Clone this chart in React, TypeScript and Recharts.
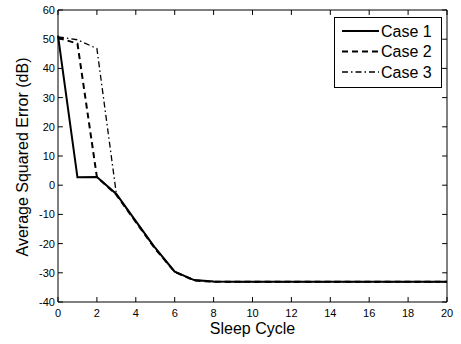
import React from "react";
import { LineChart, Line, XAxis, YAxis, Legend, ReferenceLine } from "recharts";

// sleep cycle index (x axis)
const cycles = [0, 1, 2, 3, 4, 5, 6, 7, 8, 9, 10, 11, 12, 13, 14, 15, 16, 17, 18, 19, 20];

// average squared error in dB
const case1 = [51.2, 2.7, 2.8, -3.0, -12.3, -21.5, -29.6, -32.5, -33.0, -33.1, -33.1, -33.1, -33.1, -33.1, -33.1, -33.1, -33.1, -33.1, -33.1, -33.1, -33.1];
const case2 = [50.5, 48.5, 2.8, -3.3, -12.6, -21.8, -29.7, -32.6, -33.1, -33.1, -33.1, -33.1, -33.1, -33.1, -33.1, -33.1, -33.1, -33.1, -33.1, -33.1, -33.1];
const case3 = [50.8, 49.8, 46.8, -3.0, -12.5, -21.7, -29.6, -32.5, -33.0, -33.1, -33.1, -33.1, -33.1, -33.1, -33.1, -33.1, -33.1, -33.1, -33.1, -33.1, -33.1];

const xTicks = [0, 2, 4, 6, 8, 10, 12, 14, 16, 18, 20];
const yTicks = [-40, -30, -20, -10, 0, 10, 20, 30, 40, 50, 60];

const SERIES = [
  { key: "case1", name: "Case 1", dash: undefined as string | undefined, width: 2 },
  { key: "case2", name: "Case 2", dash: "6 4", width: 2 },
  { key: "case3", name: "Case 3", dash: "6 3 1.5 3", width: 1.3 },
];

const data = cycles.map((c, i) => ({
  cycle: c,
  case1: case1[i],
  case2: case2[i],
  case3: case3[i],
}));

const FONT = '"Liberation Sans", Arial, Helvetica, sans-serif';
const X_TICK_LEN = 0.25; // inward tick length in x units (~5px)
const Y_TICK_LEN = 1.7; // inward tick length in dB (~5px)

const renderLegend = () => (
  <div style={{ width: 108, height: 71, border: "1px solid #000", background: "#fff", boxSizing: "border-box" }}>
    <svg width={106} height={69} style={{ display: "block" }}>
      {SERIES.map((s, i) => {
        const cy = 13 + i * 20.5;
        return (
          <g key={s.key}>
            <line x1={7} x2={44} y1={cy} y2={cy} stroke="#000" strokeWidth={s.width} strokeDasharray={s.dash} />
            <text x={46} y={cy + 5.5} fontFamily={FONT} fontSize={16} fill="#000">
              {s.name}
            </text>
          </g>
        );
      })}
    </svg>
  </div>
);

export default function App() {
  return (
    <div style={{ position: "absolute", left: 0, top: 0, width: 461, height: 344, background: "#fff" }}>
      <LineChart width={461} height={344} data={data} margin={{ top: 10, right: 14, bottom: 0, left: 0 }}>
        <XAxis
          dataKey="cycle"
          type="number"
          domain={[0, 20]}
          ticks={xTicks}
          interval={0}
          height={42}
          axisLine={false}
          tickLine={false}
          tickSize={0}
          tickMargin={7.5}
          tick={{ fill: "#000", fontSize: 11, fontFamily: FONT }}
          label={{ value: "Sleep Cycle", position: "insideBottom", offset: 10, fill: "#000", fontSize: 16, fontFamily: FONT }}
        />
        <YAxis
          type="number"
          domain={[-40, 60]}
          ticks={yTicks}
          interval={0}
          width={58}
          axisLine={false}
          tickLine={false}
          tickSize={0}
          tickMargin={3}
          tick={{ fill: "#000", fontSize: 11, fontFamily: FONT }}
          label={{
            content: () => (
              <text
                x={22}
                y={157}
                transform="rotate(-90 22 157)"
                textAnchor="middle"
                dominantBaseline="central"
                fontFamily={FONT}
                fontSize={16}
                fill="#000"
              >
                Average Squared Error (dB)
              </text>
            ),
          }}
        />
        {/* plot box */}
        <ReferenceLine x={0} stroke="#000" strokeWidth={1} ifOverflow="visible" />
        <ReferenceLine x={20} stroke="#000" strokeWidth={1} ifOverflow="visible" />
        <ReferenceLine y={-40} stroke="#000" strokeWidth={1} ifOverflow="visible" />
        <ReferenceLine y={60} stroke="#000" strokeWidth={1} ifOverflow="visible" />
        {/* inward ticks on all four sides */}
        {xTicks.map((t) => (
          <ReferenceLine key={`xb${t}`} segment={[{ x: t, y: -40 }, { x: t, y: -40 + Y_TICK_LEN }]} stroke="#000" ifOverflow="visible" />
        ))}
        {xTicks.map((t) => (
          <ReferenceLine key={`xt${t}`} segment={[{ x: t, y: 60 }, { x: t, y: 60 - Y_TICK_LEN }]} stroke="#000" ifOverflow="visible" />
        ))}
        {yTicks.map((t) => (
          <ReferenceLine key={`yl${t}`} segment={[{ x: 0, y: t }, { x: X_TICK_LEN, y: t }]} stroke="#000" ifOverflow="visible" />
        ))}
        {yTicks.map((t) => (
          <ReferenceLine key={`yr${t}`} segment={[{ x: 20, y: t }, { x: 20 - X_TICK_LEN, y: t }]} stroke="#000" ifOverflow="visible" />
        ))}
        <Legend
          layout="vertical"
          align="center"
          verticalAlign="middle"
          content={renderLegend}
          wrapperStyle={{ position: "absolute", left: 334, top: 17, width: 108, height: 71 }}
        />
        {SERIES.map((s) => (
          <Line
            key={s.key}
            dataKey={s.key}
            name={s.name}
            type="linear"
            stroke="#000"
            strokeWidth={s.width}
            strokeDasharray={s.dash}
            dot={false}
            activeDot={false}
            isAnimationActive={false}
          />
        ))}
      </LineChart>
    </div>
  );
}
